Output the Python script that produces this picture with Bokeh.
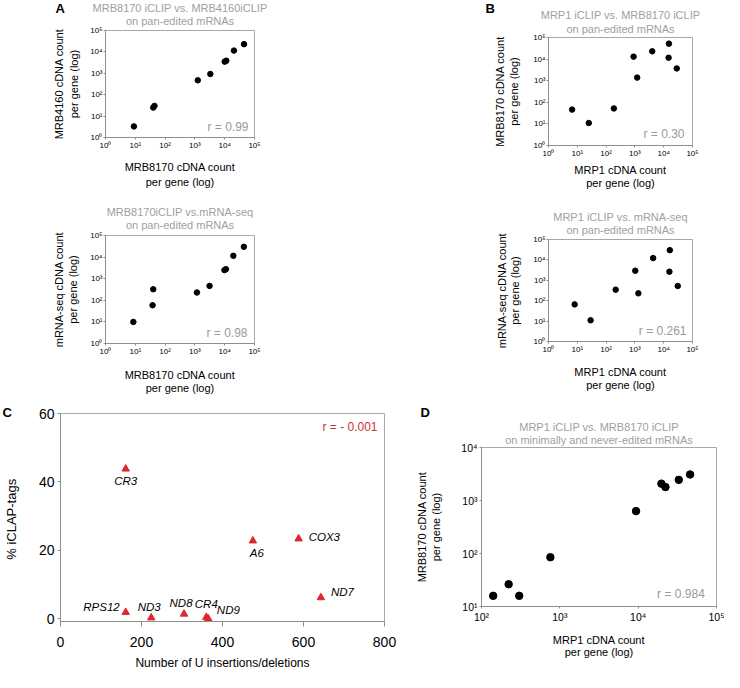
import math
from bokeh.plotting import figure
from bokeh.models import Range1d, FixedTicker, CustomJSTickFormatter, Label, Title
from bokeh.layouts import column, row
from bokeh.embed import file_html
from bokeh.resources import INLINE

FONT = "Liberation Sans"
TITLE_GRAY = "#a0a0a0"
R_GRAY = "#9a9a9a"
AXIS_GRAY = "#8f8f8f"
RED = "#e0262d"
RED_TXT = "#c8323c"

# ---------------- data ----------------
log_ticks_ab = [1, 10, 100, 1000, 10000, 100000]
log_ticks_d_x = [100, 1000, 10000, 100000]
log_ticks_d_y = [10, 100, 1000, 10000]

# Panel A (top): MRB8170 vs MRB4160 iCLIP, pan-edited mRNAs
a1_mrb8170 = [9, 40, 44, 1250, 3300, 10000, 11300, 20400, 44500]
a1_mrb4160 = [3.3, 25, 30, 470, 930, 3500, 3900, 11500, 23000]
# Panel A (bottom): MRB8170 iCLIP vs mRNA-seq
a2_mrb8170 = [8.6, 38, 40, 1170, 3100, 9800, 11000, 19500, 44000]
a2_mrnaseq = [10, 59, 325, 230, 465, 2500, 2760, 11500, 30000]
# Panel B (top): MRP1 vs MRB8170 iCLIP
b1_mrp1 = [6.6, 25, 186, 900, 1200, 4000, 15200, 14800, 28400]
b1_mrb8170 = [46, 11, 52, 13000, 1390, 23000, 52000, 11600, 3700]
# Panel B (bottom): MRP1 iCLIP vs mRNA-seq
b2_mrp1 = [8.1, 29, 215, 1030, 1320, 4300, 16300, 15800, 30700]
b2_mrnaseq = [66, 11, 347, 2950, 230, 12300, 30000, 2640, 525]
# Panel C: U insertions/deletions vs % iCLAP tags
c_genes = ["CR3", "RPS12", "ND3", "ND8", "CR4", "ND9", "A6", "COX3", "ND7"]
c_u_edits = [161, 161, 224, 305, 360, 365, 475, 588, 643]
c_iclap_pct = [43.8, 1.9, 0.3, 1.4, 0.45, 0.0, 22.8, 23.4, 6.2]
c_x_ticks = [0, 200, 400, 600, 800]
c_y_ticks = [0, 20, 40, 60]
# Panel D: MRP1 vs MRB8170 iCLIP, minimally and never-edited mRNAs
d_mrp1 = [141, 222, 303, 757, 9400, 19800, 22300, 33000, 46000]
d_mrb8170 = [15.9, 26.3, 15.9, 85, 631, 2080, 1790, 2450, 3100]

# gene label placement (style only): align, dx, dy(up)
c_label_style = {
    "CR3": ("center", 0, -12), "RPS12": ("right", -6, 5), "ND3": ("center", -2, 11),
    "ND8": ("center", -3, 10.5), "CR4": ("center", 0, 13), "ND9": ("left", 8.5, 8.5),
    "A6": ("center", 4, -12), "COX3": ("left", 10, 1.7), "ND7": ("left", 10, 6),
}

sup_fmt = CustomJSTickFormatter(code="""
const sup = {"0":"\u2070","1":"\u00b9","2":"\u00b2","3":"\u00b3","4":"\u2074","5":"\u2075","6":"\u2076","7":"\u2077","8":"\u2078","9":"\u2079"};
const e = Math.round(Math.log10(tick));
return "10" + String(e).split("").map(c => sup[c]).join("");
""")


def base_fig(w, h, bl, br, bt, bb, xr, yr, xtype, ytype):
    p = figure(width=w, height=h, x_axis_type=xtype, y_axis_type=ytype,
               x_range=Range1d(*xr), y_range=Range1d(*yr),
               output_backend="svg", toolbar_location=None,
               min_border_left=bl, min_border_right=br,
               min_border_top=bt, min_border_bottom=bb)
    p.grid.visible = False
    p.outline_line_color = "#a8a8a8"
    p.outline_line_width = 1
    p.background_fill_color = "white"
    p.border_fill_color = "white"
    return p


def style_axis(ax, ticks, fmt, label, tick_size, label_size, tick_out,
               lab_standoff, axlab_standoff, line_h=1.2):
    ax.ticker = FixedTicker(ticks=ticks)
    if fmt is not None:
        ax.formatter = fmt
    ax.minor_tick_line_color = None
    ax.major_tick_in = 0
    ax.major_tick_out = tick_out
    ax.axis_line_color = AXIS_GRAY
    ax.major_tick_line_color = AXIS_GRAY
    ax.major_label_text_font = FONT
    ax.major_label_text_font_size = tick_size
    ax.major_label_text_color = "black"
    ax.major_label_standoff = int(lab_standoff)
    ax.axis_label = label
    ax.axis_label_text_font = FONT
    ax.axis_label_text_font_style = "normal"
    ax.axis_label_text_font_size = label_size
    ax.axis_label_text_color = "black"
    ax.axis_label_text_line_height = line_h
    ax.axis_label_standoff = int(round(axlab_standoff))


def gray_title(text, standoff, size="11px"):
    return Title(text=text, align="center", standoff=int(standoff), text_font=FONT,
                 text_font_style="normal", text_font_size=size, text_color=TITLE_GRAY)


def set_titles(p, line1, line2, st1, st2, letter=None, let_off=0, let_st=0):
    # stacking outward from the frame: line2, line1, then p.title (outermost)
    p.add_layout(gray_title(line2, st2), "above")
    if letter is None:
        t = p.title
        t.text = line1
        t.align = "center"
        t.standoff = int(st1)
        t.text_font = FONT
        t.text_font_style = "normal"
        t.text_font_size = "11px"
        t.text_color = TITLE_GRAY
    else:
        p.add_layout(gray_title(line1, st1), "above")
        letter_title(p, letter, let_off, let_st)


def letter_title(p, txt, offset, standoff):
    t = p.title
    t.text = txt
    t.align = "left"
    t.offset = offset
    t.standoff = int(standoff)
    t.text_font = FONT
    t.text_font_style = "bold"
    t.text_font_size = "13px"
    t.text_color = "black"


def r_label(p, txt, x, y, dx, dy, color=R_GRAY, size="12px"):
    p.add_layout(Label(x=x, y=y, x_offset=dx, y_offset=dy, text=txt,
                       text_font=FONT, text_font_size=size, text_color=color,
                       text_align="right", text_baseline="middle"))


def log_panel(w, h, bl, br, bt, bb, xs, ys, xlabel, ylabel, r_txt, r_dx, r_dy,
              x_std, y_std, lh):
    p = base_fig(w, h, bl, br, bt, bb, (1, 1e5), (1, 1e5), "log", "log")
    style_axis(p.xaxis[0], log_ticks_ab, sup_fmt, xlabel, "8px", "11px", 2, 1, x_std, lh)
    style_axis(p.yaxis[0], log_ticks_ab, sup_fmt, ylabel, "8px", "11px", 2, 1, y_std, lh)
    p.scatter(xs, ys, size=5.5, color="black", line_color="black")
    r_label(p, r_txt, 1e5, 1, r_dx, r_dy)
    return p


# ---- row 1 ----
a1 = log_panel(470, 198, 105, 215, 30, 61, a1_mrb8170, a1_mrb4160,
               "MRB8170 cDNA count\nper gene (log)", "MRB4160 cDNA count\nper gene (log)",
               "r = 0.99", -6, 11, 8, 7, 1.25)
set_titles(a1, "MRB8170 iCLIP vs. MRB4160iCLIP", "on pan-edited mRNAs", -10, 8,
           letter="A", let_off=-50, let_st=-22)

b1 = log_panel(254, 198, 73, 32, 37, 53, b1_mrp1, b1_mrb8170,
               "MRP1 cDNA count\nper gene (log)", "MRB8170 cDNA count\nper gene (log)",
               "r = 0.30", -8, 12, 3, 10, 1.15)
set_titles(b1, "MRP1 iCLIP vs. MRB8170 iCLIP", "on pan-edited mRNAs", -5, 5,
           letter="B", let_off=-63, let_st=-12)

# ---- row 2 ----
a2 = log_panel(470, 199, 104, 216, 37, 54, a2_mrb8170, a2_mrnaseq,
               "MRB8170 cDNA count\nper gene (log)", "mRNA-seq cDNA count\nper gene (log)",
               "r = 0.98", -7, 11, 10, 8, 1.15)
set_titles(a2, "MRB8170iCLIP vs.mRNA-seq", "on pan-edited mRNAs", -11, 9)

b2 = log_panel(254, 199, 78, 26, 41, 56, b2_mrp1, b2_mrnaseq,
               "MRP1 cDNA count\nper gene (log)", "mRNA-seq cDNA count\nper gene (log)",
               "r = 0.261", -6, 11, 9, 9, 1.1)
set_titles(b2, "MRP1 iCLIP vs. mRNA-seq", "on pan-edited mRNAs", -10, 8)

# ---- row 3: panel C ----
c = base_fig(405, 275, 60, 21, 16, 46, (0, 800), (-0.8, 60), "linear", "linear")
style_axis(c.xaxis[0], c_x_ticks, None, "Number of U insertions/deletions", "14px", "12px", 5, 10, 6)
style_axis(c.yaxis[0], c_y_ticks, None, "%  iCLAP-tags", "14px", "13px", 3, 3, 17)
letter_title(c, "C", -58, -13)
c.scatter(c_u_edits, c_iclap_pct, marker="triangle", size=7.5, color=RED, line_color=RED)
for g, xv, yv in zip(c_genes, c_u_edits, c_iclap_pct):
    al, dx, dy = c_label_style[g]
    c.add_layout(Label(x=xv, y=yv, x_offset=dx, y_offset=dy, text=g, text_font=FONT,
                       text_font_style="italic", text_font_size="11.5px", text_color="black",
                       text_align=al, text_baseline="middle"))
r_label(c, "r = - 0.001", 800, 60, -7, -13.7, color=RED_TXT)

# ---- row 3: panel D ----
d = base_fig(319, 275, 76, 8, 50, 66, (100, 1e5), (10, 1e4), "log", "log")
style_axis(d.xaxis[0], log_ticks_d_x, sup_fmt, "MRP1 cDNA count\nper gene (log)", "10.5px", "11px", 2, 2, 8, 1.05)
style_axis(d.yaxis[0], log_ticks_d_y, sup_fmt, "MRB8170 cDNA count\nper gene (log)", "10.5px", "11px", 2, 2, 16, 1.15)
set_titles(d, "MRP1 iCLIP vs. MRB8170 iCLIP", "on minimally and never-edited mRNAs", -6, 4,
           letter="D", let_off=-61, let_st=4)
d.scatter(d_mrp1, d_mrb8170, size=7.5, color="black", line_color="black")
r_label(d, "r = 0.984", 1e5, 10, -11.7, 12.7)

layout = column(row(column(a1, a2), column(b1, b2)), row(column(c), column(d)))
open("out.html", "w").write(file_html(layout, INLINE))
